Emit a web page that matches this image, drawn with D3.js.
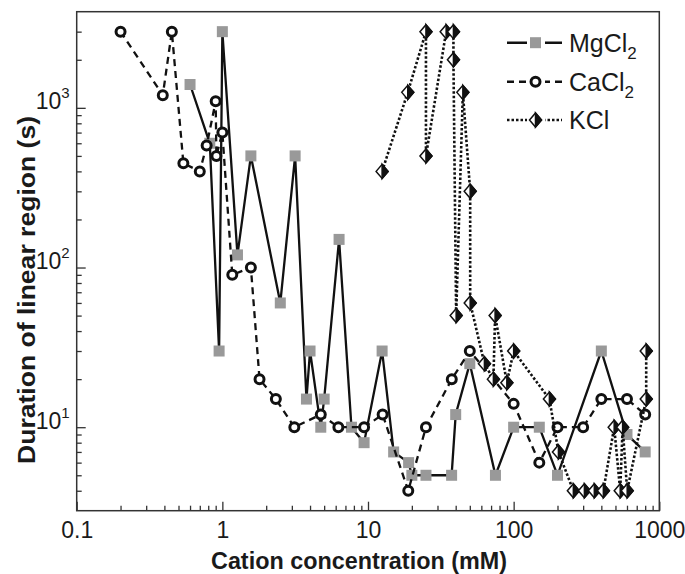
<!DOCTYPE html>
<html><head><meta charset="utf-8">
<script src="https://cdn.jsdelivr.net/npm/d3@7"></script>
<style>body{margin:0;background:#fff} svg{font-family:"Liberation Sans",Arial,Helvetica,sans-serif}</style>
</head><body><svg id="c" width="685" height="574"></svg>
<script>
// ---- data ----
const mgX=[0.6,0.82,0.95,1.0,1.27,1.57,2.5,3.16,3.78,4.0,4.74,5.0,6.33,7.7,9.4,12.5,15,19,20,25,37.5,40,50,75,100,150,200,400,600,800];
const mgY=[1400,600,30,3000,120,500,60,500,15,30,10,15,150,10,8,30,7,6,5,5,5,12,25,5,10,10,5,30,9,7];
const caX=[0.2,0.39,0.45,0.54,0.7,0.78,0.9,0.91,1.0,1.17,1.57,1.8,2.33,3.12,4.74,6.26,9.4,12.6,18.9,25,37.6,50,100,150,200,300,400,600,800];
const caY=[3000,1200,3000,450,400,580,1100,500,700,90,100,20,15,10,12,10,10,12,4,10,20,30,14,6,10,10,15,15,12];
const kX=[12.5,18.75,25,25,34.4,38.6,38.6,40.3,44.8,50.3,50.3,63,72.6,74.6,89.8,100,176,203,257,306,358,413,490,539,560,602,813,813];
const kY=[400,1250,3000,500,3000,3000,2000,50,1250,300,60,25,20,50,19,30,15,7,4,4,4,4,10,4,10,4,15,30];
const xTicks=[0.1,1,10,100,1000];
const xTickLabels=["0.1","1","10","100","1000"];
const yTicks=[10,100,1000];
const yTickExps=["1","2","3"];
const seriesBase=["MgCl","CaCl","KCl"];
const seriesSub=["2","2",""];

const svg=d3.select("#c");
const L=76.7,R=659.3,T=11.7,B=510.7;
const x=d3.scaleLog().domain([0.1,1000]).range([L,R]);
const y=d3.scaleLog().domain([3,4000]).range([B,T]);

const xMinor=[];[0.1,1,10,100].forEach(d=>{for(let k=2;k<=9;k++)xMinor.push(d*k);});
const yMinor=[];[1,10,100,1000].forEach(d=>{for(let k=2;k<=9;k++){const v=d*k;if(v>3.5&&v<3900)yMinor.push(v);}});

const axCol="#333";
const txtCol="#1a1a1a";
// x axis
const gx=svg.append("g").attr("transform",`translate(0,${B})`);
gx.call(d3.axisBottom(x).tickValues(xMinor).tickSize(-5).tickFormat(""));
const gx2=svg.append("g").attr("transform",`translate(0,${B})`);
gx2.call(d3.axisBottom(x).tickValues(xTicks).tickSize(-9).tickPadding(11).tickFormat((d,i)=>xTickLabels[i]));
gx2.selectAll("text").attr("font-size",23).attr("fill",txtCol).style("font-family","'Liberation Sans',Arial,sans-serif");
// y axis
const gy=svg.append("g").attr("transform",`translate(${L},0)`);
gy.call(d3.axisLeft(y).tickValues(yMinor).tickSize(-5).tickFormat(""));
const gy2=svg.append("g").attr("transform",`translate(${L},0)`);
gy2.call(d3.axisLeft(y).tickValues(yTicks).tickSize(-9).tickPadding(10).tickFormat(""));
gy2.selectAll(".tick").each(function(d,i){
  const t=d3.select(this).append("text").attr("x",-7).attr("dy","0.05em").attr("text-anchor","end")
    .attr("fill",txtCol).style("font-family","'Liberation Sans',Arial,sans-serif").attr("font-size",23);
  t.append("tspan").text("10");
  t.append("tspan").attr("font-size",15).attr("dy","-0.75em").text(yTickExps[i]);
});
[gx,gx2,gy,gy2].forEach(g=>{g.select(".domain").remove();g.selectAll("line").attr("stroke",axCol).attr("stroke-width",1.3);});
svg.append("rect").attr("x",L).attr("y",T).attr("width",R-L).attr("height",B-T)
  .attr("fill","none").attr("stroke",axCol).attr("stroke-width",1.5);

// labels
svg.append("text").attr("x",359).attr("y",569).attr("text-anchor","middle")
  .attr("font-weight","bold").attr("font-size",23).attr("fill",txtCol)
  .attr("textLength",296).attr("lengthAdjust","spacingAndGlyphs").text("Cation concentration (mM)");
svg.append("text").attr("transform",`translate(35,290) rotate(-90)`).attr("text-anchor","middle")
  .attr("font-weight","bold").attr("font-size",23).attr("fill",txtCol)
  .attr("textLength",348).attr("lengthAdjust","spacingAndGlyphs").text("Duration of linear region (s)");

const line=d3.line().x(d=>x(d[0])).y(d=>y(d[1]));
const mg=mgX.map((v,i)=>[v,mgY[i]]);
const ca=caX.map((v,i)=>[v,caY[i]]);
const kc=kX.map((v,i)=>[v,kY[i]]);

const plot=svg.append("g");
function drawSquare(g,px,py){g.append("rect").attr("x",px-5.5).attr("y",py-5.5).attr("width",11).attr("height",11).attr("fill","#999");}
function drawCircle(g,px,py){g.append("circle").attr("cx",px).attr("cy",py).attr("r",4.5).attr("fill","#fff").attr("stroke","#111").attr("stroke-width",3);}
function drawDiamond(g,px,py){
  const w=6,h=7;
  g.append("path").attr("d",`M${px},${py-h}L${px+w},${py}L${px},${py+h}L${px-w},${py}Z`).attr("fill","#fff").attr("stroke","#111").attr("stroke-width",1.5);
  g.append("path").attr("d",`M${px},${py-h}L${px+w},${py}L${px},${py+h}Z`).attr("fill","#111").attr("stroke","#111").attr("stroke-width",1.5);
}
// MgCl2
plot.append("path").datum(mg).attr("d",line).attr("fill","none").attr("stroke","#111").attr("stroke-width",2.3);
mg.forEach(d=>drawSquare(plot,x(d[0]),y(d[1])));
// CaCl2
plot.append("path").datum(ca).attr("d",line).attr("fill","none").attr("stroke","#111").attr("stroke-width",2.3).attr("stroke-dasharray","7,5");
ca.forEach(d=>drawCircle(plot,x(d[0]),y(d[1])));
// KCl
plot.append("path").datum(kc).attr("d",line).attr("fill","none").attr("stroke","#111").attr("stroke-width",2.6).attr("stroke-dasharray","2.5,2");
kc.forEach(d=>drawDiamond(plot,x(d[0]),y(d[1])));

// legend
const lg=svg.append("g");
const rowsY=[42.7,81.7,120];
const dashes=[null,"7,5","2.5,2"];
rowsY.forEach((ry,i)=>{
  lg.append("line").attr("x1",507).attr("x2",562).attr("y1",ry).attr("y2",ry).attr("stroke","#111").attr("stroke-width",2.5).attr("stroke-dasharray",dashes[i]);
  lg.append("rect").attr("x",527).attr("y",ry-9).attr("width",18).attr("height",18).attr("fill","#fff");
  if(i===0)drawSquare(lg,535.5,ry);
  if(i===1)drawCircle(lg,535.5,ry);
  if(i===2)drawDiamond(lg,535.5,ry);
  const t=lg.append("text").attr("x",569).attr("y",ry+9).attr("font-size",25).attr("fill",txtCol);
  t.append("tspan").text(seriesBase[i]);
  if(seriesSub[i])t.append("tspan").attr("font-size",17).attr("dy","0.4em").text(seriesSub[i]);
});
</script></body></html>
